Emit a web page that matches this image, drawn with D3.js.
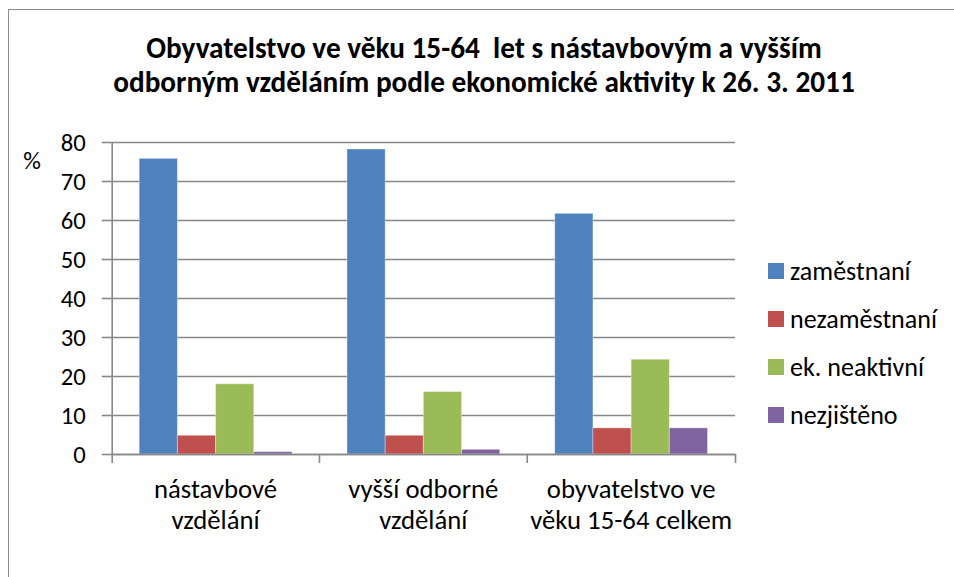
<!DOCTYPE html>
<html>
<head>
<meta charset="utf-8">
<script src="https://cdn.jsdelivr.net/npm/d3@7"></script>
<style>
  body { margin: 0; background: #fff; }
  svg text { font-family: Carlito, Calibri, Lato, sans-serif; fill: #000; }
</style>
</head>
<body>
<div id="canvas"></div>
<script>
// data
const categories = ["nástavbové vzdělání", "vyšší odborné vzdělání", "obyvatelstvo ve věku 15-64 celkem"];
const categoryLines = [["nástavbové", "vzdělání"], ["vyšší odborné", "vzdělání"], ["obyvatelstvo ve", "věku 15-64 celkem"]];
const seriesNames = ["zaměstnaní", "nezaměstnaní", "ek. neaktivní", "nezjištěno"];
const zamestnani = [75.8, 78.2, 61.7];
const nezamestnani = [4.8, 4.8, 6.7];
const neaktivni = [18.0, 16.0, 24.3];
const nezjisteno = [0.6, 1.2, 6.7];
const yTicks = [0, 10, 20, 30, 40, 50, 60, 70, 80];
const titleLines = ["Obyvatelstvo ve věku 15-64  let s nástavbovým a vyšším",
                    "odborným vzděláním podle ekonomické aktivity k 26. 3. 2011"];

const colors = ["#4F81BD", "#C0504D", "#9BBB59", "#8064A2"];
const seriesValues = [zamestnani, nezamestnani, neaktivni, nezjisteno];

const dims = { width: 954, height: 577 };
const plot = { left: 111.7, right: 735, top: 142, bottom: 454 };

const svg = d3.select("#canvas")
  .append("svg")
  .attr("width", dims.width)
  .attr("height", dims.height);

// outer frame
svg.append("rect")
  .attr("x", 9.5).attr("y", 10.5)
  .attr("width", 1000).attr("height", 700)
  .attr("fill", "none")
  .attr("stroke", "#d0d0d0").attr("stroke-width", 2);
svg.append("rect")
  .attr("x", 8.5).attr("y", 9.5)
  .attr("width", 1000).attr("height", 700)
  .attr("fill", "#fff")
  .attr("stroke", "#8c8c8c").attr("stroke-width", 1);

// fit a text's font size so it spans a target width
const fitFont = (sel, target) => {
  sel.style("font-size", "20px");
  const w = sel.node().getComputedTextLength();
  const size = 20 * target / w;
  return size;
};

// scales
const x = d3.scaleBand().domain(categories).range([plot.left, plot.right]).padding(0);
const xInner = d3.scaleBand().domain(seriesNames).range([0, x.bandwidth()]).paddingInner(0).paddingOuter(0.72);
const y = d3.scaleLinear().domain([0, 80]).range([plot.bottom, plot.top]);

// grid
const grid = svg.append("g")
  .attr("transform", `translate(${plot.left},0)`)
  .call(d3.axisLeft(y).tickValues(yTicks).tickSize(-(plot.right - plot.left)).tickFormat(""));
grid.select(".domain").remove();
grid.selectAll("line").attr("stroke", "#888").attr("stroke-width", 1.6);

// y axis
const yAxis = svg.append("g")
  .attr("transform", `translate(${plot.left},0)`)
  .call(d3.axisLeft(y).tickValues(yTicks).tickSize(10).tickSizeOuter(0).tickPadding(16));
yAxis.select(".domain").attr("stroke", "#888").attr("stroke-width", 1.6);
yAxis.selectAll(".tick line").attr("stroke", "#888").attr("stroke-width", 1.6);
yAxis.selectAll("text").attr("font-family", null);
const tickSize = fitFont(yAxis.select(".tick:last-of-type text"), 25);
yAxis.selectAll("text").style("font-size", tickSize + "px").attr("dy", "0.35em");

// bars
const groups = svg.append("g").selectAll("g")
  .data(categories)
  .join("g")
  .attr("transform", d => `translate(${x(d)},0)`);

groups.selectAll("rect")
  .data((c, i) => seriesNames.map((s, j) => ({ series: s, value: seriesValues[j][i], color: colors[j] })))
  .join("rect")
  .attr("x", d => xInner(d.series))
  .attr("width", xInner.bandwidth())
  .attr("y", d => y(d.value))
  .attr("height", d => y(0) - y(d.value))
  .attr("fill", d => d.color)
  .attr("stroke", "rgba(255,255,255,0.35)")
  .attr("stroke-width", 1);

// x axis
const xAxis = svg.append("g")
  .attr("transform", `translate(0,${plot.bottom})`)
  .call(d3.axisBottom(x).tickSize(0).tickSizeOuter(9).tickFormat(""));
xAxis.select(".domain").attr("stroke", "#888").attr("stroke-width", 1.6).attr("fill", "none");
xAxis.selectAll(".tick").remove();
xAxis.selectAll(".bound")
  .data(categories.slice(1))
  .join("line")
  .attr("class", "bound")
  .attr("x1", d => x(d)).attr("x2", d => x(d))
  .attr("y1", 0).attr("y2", 9)
  .attr("stroke", "#888").attr("stroke-width", 1.6);

// category labels
const catLabels = svg.append("g").selectAll("text")
  .data(categories)
  .join("text")
  .attr("text-anchor", "middle")
  .attr("x", d => x(d) + x.bandwidth() / 2);
catLabels.selectAll("tspan")
  .data((d, i) => categoryLines[i])
  .join("tspan")
  .attr("x", function() { return this.parentNode.getAttribute("x"); })
  .attr("y", (d, k) => 498 + k * 31)
  .text(d => d);
const probe = svg.append("text").text(categoryLines[2][1]);
const catSize = fitFont(probe, 202);
probe.remove();
catLabels.style("font-size", catSize + "px");

// y label
svg.append("text")
  .attr("x", 32).attr("y", 160)
  .attr("dy", "0.35em")
  .attr("text-anchor", "middle")
  .style("font-size", tickSize + "px")
  .text("%");

// title
const title = svg.append("g").selectAll("text")
  .data(titleLines)
  .join("text")
  .attr("text-anchor", "middle")
  .attr("x", 484)
  .attr("y", (d, i) => 58 + i * 34)
  .attr("font-weight", "bold")
  .style("white-space", "pre")
  .attr("xml:space", "preserve")
  .text(d => d);
const titleSize = fitFont(title.filter((d, i) => i === 1), 742);
title.style("font-size", titleSize + "px");

// legend
const legend = svg.append("g").selectAll("g")
  .data(seriesNames)
  .join("g")
  .attr("transform", (d, i) => `translate(768,${271 + i * 48})`);
legend.append("rect")
  .attr("x", 0).attr("y", -8)
  .attr("width", 16).attr("height", 16)
  .attr("fill", (d, i) => colors[i]);
const legendText = legend.append("text")
  .attr("x", 22)
  .attr("dy", "0.35em")
  .text(d => d);
const legSize = fitFont(legendText.filter((d, i) => i === 1), 147);
legendText.style("font-size", legSize + "px");
</script>
</body>
</html>
